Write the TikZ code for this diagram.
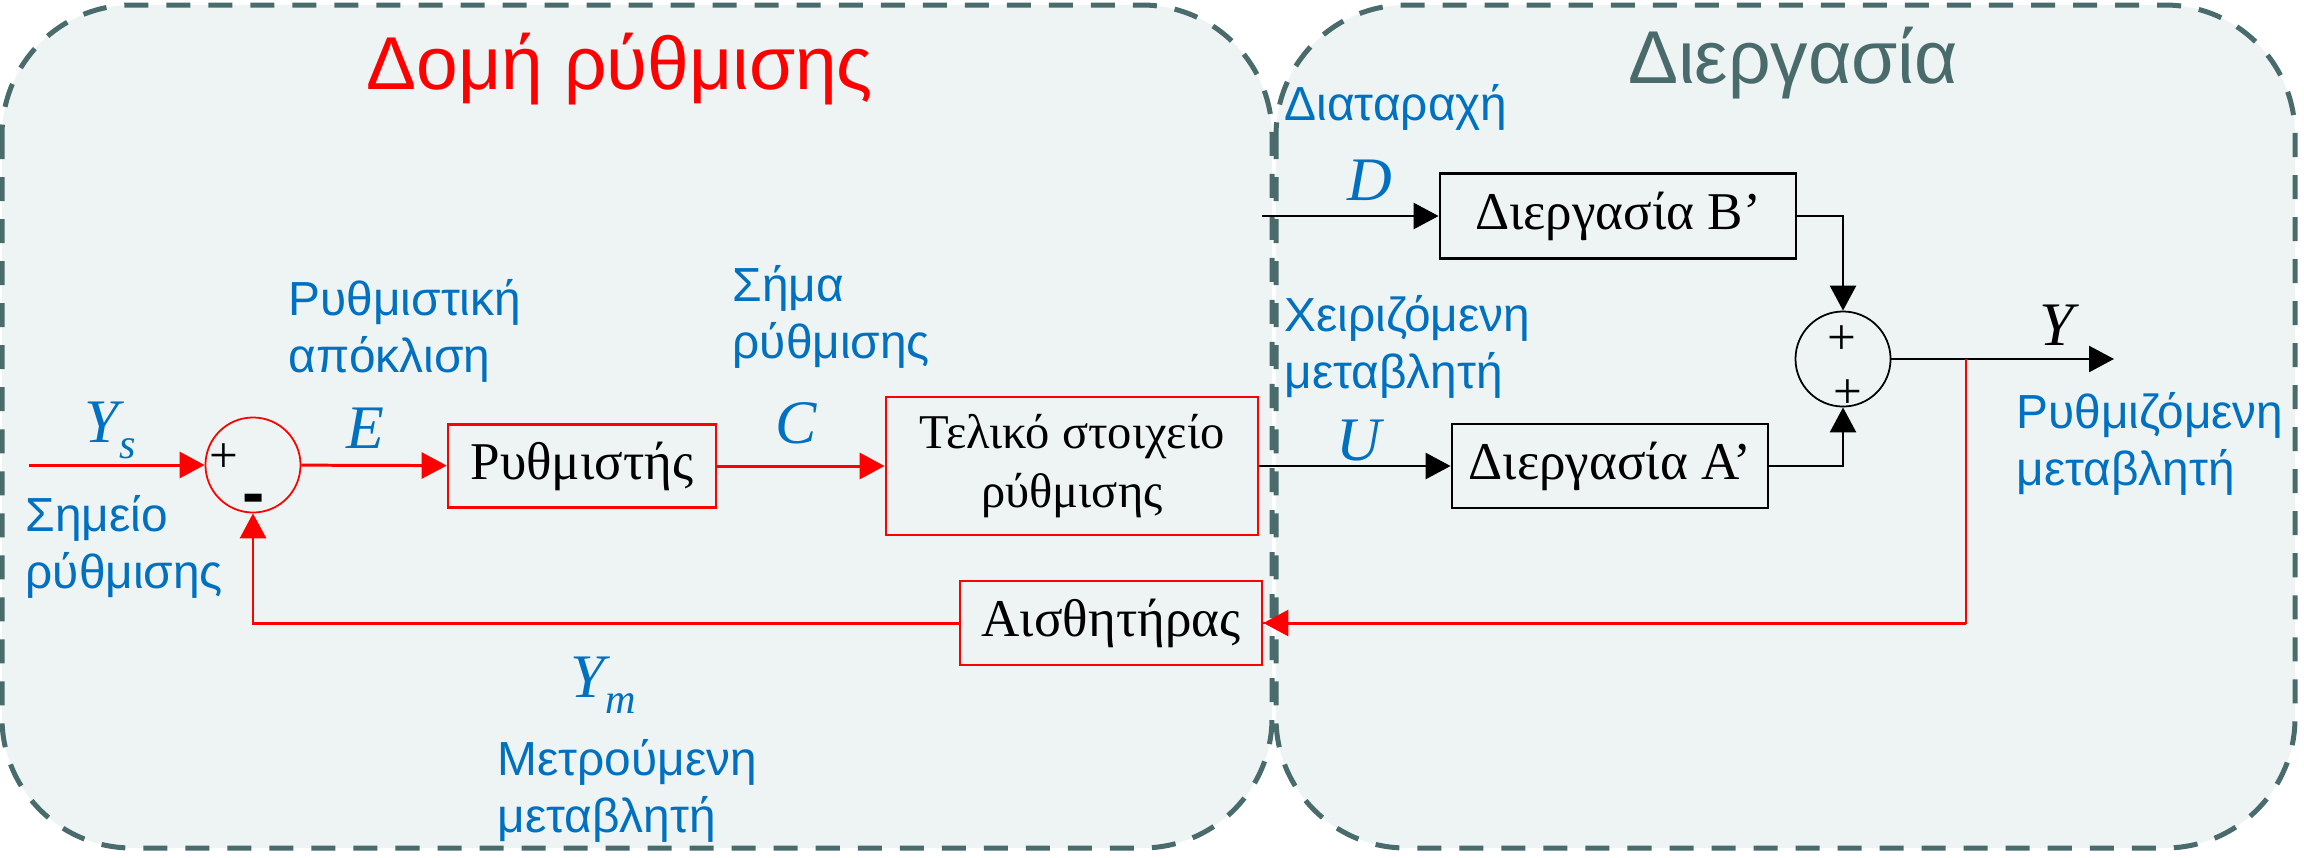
\documentclass[tikz,border=0pt]{standalone}
\usepackage{fontspec}
\setmainfont{Liberation Serif}
\newfontfamily\sansgr{Liberation Sans}
\usetikzlibrary{arrows.meta}

\definecolor{panelfill}{HTML}{EEF4F4}
\definecolor{paneledge}{HTML}{4A6B6B}
\definecolor{lblblue}{HTML}{0070C0}

\newcommand{\boxtextfont}{\fontsize{15.1}{16.8}\selectfont}
\newcommand{\symsub}[2]{\textit{#1}\raisebox{-0.16cm}{\fontsize{12}{12}\selectfont\textit{#2}}}

\tikzset{
  panel/.style={draw=paneledge, fill=panelfill, line width=0.05cm,
    dash pattern=on 0.24cm off 0.18cm, rounded corners=1.3cm},
  titletext/.style={font=\sansgr\fontsize{21.3}{24}\selectfont, inner sep=0pt},
  lbl/.style={font=\sansgr\fontsize{13.6}{16.2}\selectfont, text=lblblue,
    align=left, inner sep=0pt},
  sym/.style={font=\fontsize{17.6}{18}\selectfont\itshape, text=lblblue, inner sep=0pt},
  redbox/.style={draw=red, line width=0.75pt, inner sep=0pt, font=\boxtextfont},
  blkbox/.style={draw=black, line width=0.75pt, inner sep=0pt, font=\boxtextfont},
  sumnode/.style={circle, line width=0.5pt, minimum size=0.95cm, inner sep=0pt},
  signtext/.style={font=\fontsize{14.5}{14.5}\selectfont, inner sep=0pt},
  sig/.style={draw=red, line width=0.85pt, -{Triangle[length=0.25cm, width=0.26cm]}},
  fbk/.style={draw=red, line width=0.8pt},
  flow/.style={draw=black, line width=0.75pt, -{Triangle[length=0.25cm, width=0.26cm]}}
}

\begin{document}
\begin{tikzpicture}[x=0.01cm, y=-0.01cm]
    \useasboundingbox (0,0) rectangle (2304,857);

    % Background panels
    \draw[panel] (2,5) rectangle (1272,848);
    \draw[panel] (1276,5) rectangle (2295,848);

    % Titles
    \node[titletext, text=red, anchor=base] (ttlctrl) at (620, 89) {Δομή ρύθμισης};
    \node[titletext, text=paneledge, anchor=base] (ttlproc) at (1793, 83) {Διεργασία};

    % Define positions of the blocks
    \node[redbox, minimum width=2.68cm, minimum height=0.83cm] (ctrl) at (582, 466) {Ρυθμιστής};
    \node[redbox, align=center, minimum width=3.72cm, minimum height=1.38cm,
      font=\fontsize{13.8}{16.8}\selectfont] (fce) at (1072, 466) {Τελικό στοιχείο\\ρύθμισης};
    \node[redbox, minimum width=3.02cm, minimum height=0.84cm] (sens) at (1111, 623) {Αισθητήρας};
    \node[blkbox, minimum width=3.56cm, minimum height=0.85cm] (procB) at (1618, 216) {Διεργασία Β’};
    \node[blkbox, minimum width=3.16cm, minimum height=0.84cm] (procA) at (1610, 466) {Διεργασία Α’};

    % Summing points
    \node[sumnode, draw=red] (sumL) at (253, 465) {};
    \node[sumnode, draw=black] (sumR) at (1843, 359) {};
    \node[signtext] (plusL) at (224, 458) {+};
    \node[font=\sansgr\bfseries\fontsize{19}{19}\selectfont, inner sep=0pt, anchor=base] (minusL) at (254, 515) {-};
    \node[signtext] (plusRt) at (1842, 340) {+};
    \node[signtext] (plusRb) at (1848, 394) {+};

    % Free ends
    \coordinate (ysin) at (29, 465);
    \coordinate (din) at (1262, 216);
    \coordinate (yout) at (2114, 359);
    \coordinate (ybr) at (1966, 359);

    % Draw signal lines
    \draw[sig] (ysin) -- (sumL);
    \draw[sig] (sumL) -- (ctrl);
    \draw[sig] (ctrl) -- (fce);
    \draw[flow] (fce) -- (procA);
    \draw[flow] (din) -- (procB);
    \draw[flow] (procB) -| (sumR);
    \draw[flow] (procA) -| (sumR);
    \draw[flow] (sumR) -- (yout);
    \draw[fbk] (ybr) |- (sens);
    \draw[sig] (ybr |- sens) -- (sens);
    \draw[sig] (sens) -| (sumL);

    % Signal names
    \node[sym, anchor=base west] (lblys) at (84, 442) {\symsub{Y}{s}};
    \node[sym, anchor=base] (lble) at (365, 448) {E};
    \node[sym, anchor=base] (lblc) at (796, 443) {C};
    \node[sym, anchor=base] (lbld) at (1370, 200) {D};
    \node[sym, anchor=base] (lblu) at (1359, 460) {U};
    \node[sym, text=black, anchor=base] (lbly) at (2057, 345) {Y};
    \node[sym, anchor=base west] (lblym) at (570, 697) {\symsub{Y}{m}};

    % Descriptions (base = last line)
    \node[lbl, anchor=base west] (txtsp) at (25, 588) {Σημείο\\ρύθμισης};
    \node[lbl, anchor=base west] (txterr) at (288, 372) {Ρυθμιστική\\απόκλιση};
    \node[lbl, anchor=base west] (txtsig) at (732, 358) {Σήμα\\ρύθμισης};
    \node[lbl, anchor=base west] (txtmeas) at (497, 832) {Μετρούμενη\\μεταβλητή};
    \node[lbl, anchor=base west] (txtdist) at (1284, 120) {Διαταραχή};
    \node[lbl, anchor=base west] (txtman) at (1284, 388) {Χειριζόμενη\\μεταβλητή};
    \node[lbl, anchor=base west] (txtout) at (2016, 485) {Ρυθμιζόμενη\\μεταβλητή};
\end{tikzpicture}
\end{document}
